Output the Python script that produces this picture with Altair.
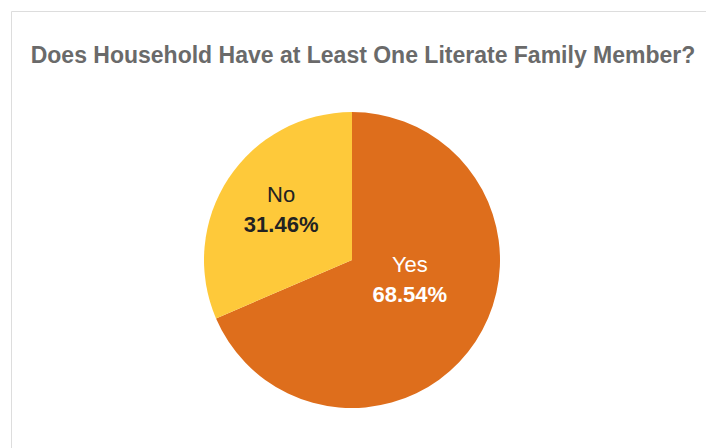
import altair as alt
import pandas as pd

labels = ["Yes", "No"]
values = [68.54, 31.46]
colors = ["#DE6E1C", "#FEC93A"]
title_text = "Does Household Have at Least One Literate Family Member?"

df = pd.DataFrame({"label": labels, "value": values, "order": list(range(len(labels)))})

FONT = "Liberation Sans"
CX, CY = 341, 249

base = alt.Chart(df).transform_calculate(
    pct="format(datum.value, '.2f') + '%'"
).encode(
    theta=alt.Theta("value:Q", stack=True),
    order=alt.Order("order:Q", sort="ascending"),
    x=alt.value(CX),
    y=alt.value(CY),
)

pie = base.mark_arc(outerRadius=148, stroke=None).encode(
    color=alt.Color("label:N", scale=alt.Scale(domain=labels, range=colors), legend=None)
)

txt_color = alt.condition(alt.datum.label == "No", alt.value("#222222"), alt.value("#ffffff"))

names = base.mark_text(radius=73, thetaOffset=-0.09, dx=-6.5, dy=-30, fontSize=22, font=FONT).encode(
    text="label:N", color=txt_color
)
pcts = base.mark_text(radius=73, thetaOffset=-0.09, dx=-6.5, dy=0, fontSize=22, font=FONT, fontWeight="bold").encode(
    text="pct:N", color=txt_color
)

chart = alt.layer(pie, names, pcts).properties(
    width=695,
    height=450,
    autosize=alt.AutoSizeParams(type="none"),
    padding={"left": 11, "top": 11, "right": 0, "bottom": 0},
    title=alt.TitleParams(
        text=title_text,
        font=FONT,
        fontSize=23,
        fontWeight="bold",
        color="#6a6a6a",
        anchor="middle",
        baseline="alphabetic",
        offset=-51,
        dx=4.5,
        dy=24,
    ),
).configure_view(stroke="#d2d2d2", strokeWidth=2.5).configure(background="#ffffff")

chart.save("out.html", embed_options={"renderer": "svg", "actions": False})
